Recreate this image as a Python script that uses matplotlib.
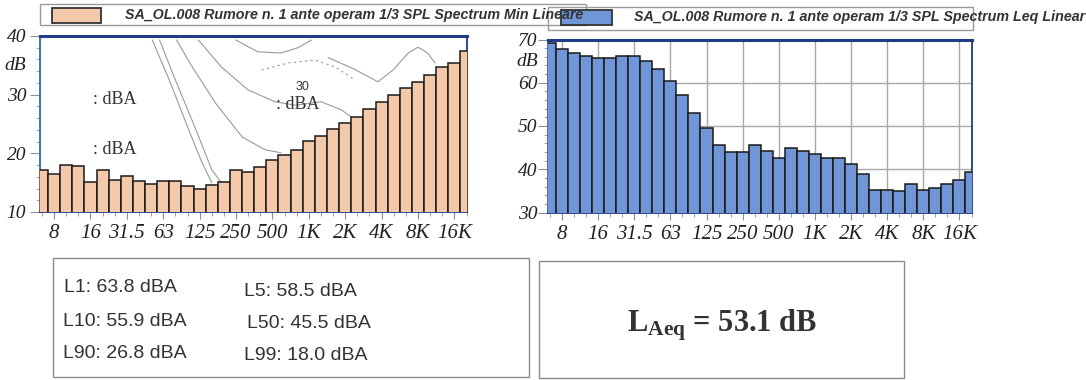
import matplotlib
matplotlib.use('Agg')
import matplotlib.pyplot as plt
from matplotlib.patches import Rectangle
from matplotlib.transforms import blended_transform_factory

W, H = 1086, 380

# 1/3 octave bands, 6.3 Hz .. 20 kHz
bands = ['6.3', '8', '10', '12.5', '16', '20', '25', '31.5', '40', '50', '63', '80',
         '100', '125', '160', '200', '250', '315', '400', '500', '630', '800', '1K', '1.25K',
         '1.6K', '2K', '2.5K', '3.15K', '4K', '5K', '6.3K', '8K', '10K', '12.5K', '16K', '20K']
label_bands = ['8', '16', '31.5', '63', '125', '250', '500', '1K', '2K', '4K', '8K', '16K']

min_levels = [17.2, 16.4, 18.0, 17.8, 15.1, 17.2, 15.4, 16.1, 15.2, 14.8, 15.2, 15.2,
              14.4, 14.0, 14.6, 15.1, 17.1, 16.8, 17.7, 18.8, 19.7, 20.6, 22.1, 22.9,
              24.1, 25.1, 26.2, 27.6, 28.7, 29.9, 31.1, 32.2, 33.3, 34.8, 35.4, 37.5]
leq_levels = [69.2, 67.9, 66.9, 66.2, 65.8, 65.8, 66.2, 66.2, 65.0, 63.2, 60.4, 57.1,
              52.9, 49.6, 45.7, 44.1, 44.1, 45.7, 44.3, 42.7, 44.8, 44.2, 43.5, 42.7,
              42.7, 41.3, 39.0, 35.2, 35.2, 35.0, 36.5, 35.1, 35.7, 36.6, 37.6, 39.3]

stat_names = ['L1', 'L5', 'L10', 'L50', 'L90', 'L99']
stat_values = [63.8, 58.5, 55.9, 45.5, 26.8, 18.0]
laeq = 53.1

min_title = 'SA_OL.008 Rumore n. 1 ante operam 1/3 SPL Spectrum Min Lineare'
leq_title = 'SA_OL.008 Rumore n. 1 ante operam 1/3 SPL Spectrum Leq Linear'

# faint curves printed behind the min spectrum (band index, dB)
curve_a_x = [9.1, 10.5, 12.1, 13.2, 14.0]
curve_a_y = [39.3, 32.5, 24.0, 18.4, 15.0]
curve_b_x = [9.7, 11.0, 12.7, 14.0, 14.8]
curve_b_y = [39.3, 32.5, 24.0, 17.2, 15.0]
curve_c_x = [11.1, 12.4, 14.3, 16.5, 18.4, 19.7]
curve_c_y = [39.3, 34.7, 28.6, 22.8, 20.6, 20.1]
curve_d_x = [12.9, 14.8, 17.0, 19.2, 20.9, 23.0, 24.7, 25.5]
curve_d_y = [39.3, 34.7, 30.8, 28.8, 28.2, 28.8, 27.4, 26.2]
curve_e_x = [16.0, 17.8, 19.7, 21.1, 22.2]
curve_e_y = [39.3, 37.3, 37.1, 38.0, 39.3]
curve_f_x = [23.6, 25.6, 27.7, 29.0, 30.2, 31.0, 31.8, 32.4]
curve_f_y = [36.3, 34.5, 32.2, 34.3, 37.1, 38.1, 37.1, 35.4]
curve_g_x = [18.1, 20.3, 22.5, 24.2, 25.8]
curve_g_y = [34.2, 35.4, 35.9, 34.7, 32.5]

serif_it = dict(family='Liberation Serif', style='italic')
frame_col = '#1f3c88'


def fx(px):
    return px / W


def fy(py):
    return 1 - py / H


def box(fig, x0, y0, x1, y1, **kw):
    fig.patches.append(Rectangle((fx(x0), fy(y1)), fx(x1) - fx(x0), fy(y0) - fy(y1),
                                 transform=fig.transFigure, **kw))


def spectrum(fig, px, levels, color, ylim, ymajor, dB_at, grid, ypad):
    x0, y0, x1, y1 = px
    ax = fig.add_axes([fx(x0), fy(y1), fx(x1) - fx(x0), fy(y0) - fy(y1)])
    idx = list(range(len(levels)))
    ax.bar(idx, levels, width=1.0, color=color, edgecolor='#1a1a1a', linewidth=1.1, zorder=3)
    ax.set_xlim(-0.16, 35.04)
    ax.set_ylim(*ylim)

    major = [bands.index(b) for b in label_bands]
    ax.set_xticks(major)
    ax.set_xticklabels(label_bands, fontsize=15, **serif_it)
    ax.set_xticks(idx, minor=True)
    ax.set_yticks(ymajor)
    ax.set_yticklabels([str(v) for v in ymajor], fontsize=14, **serif_it)
    ax.set_yticks(range(ylim[0], ylim[1] + 1, 2), minor=True)
    ax.tick_params(axis='x', which='major', length=5, color='#8890a8', pad=4)
    ax.tick_params(axis='x', which='minor', length=3, color='#8890a8')
    ax.tick_params(axis='y', which='major', length=7, color='#8890a8', pad=ypad)
    ax.tick_params(axis='y', which='minor', length=3, color='#8890a8')
    for lab in ax.get_xticklabels() + ax.get_yticklabels():
        lab.set_color('#222222')

    tr = blended_transform_factory(ax.transAxes, ax.transData)
    ax.text(-(7 * 1.39 + ypad * 1.39) / (x1 - x0), dB_at, 'dB', transform=tr,
            ha='right', va='center', fontsize=14, color='#222222', **serif_it)

    if grid:
        ax.grid(True, which='major', color='#a8a8a8', linewidth=1.0, zorder=0)
        ax.set_axisbelow(True)

    for s in ax.spines.values():
        s.set_color(frame_col)
        s.set_linewidth(1.3)
    ax.spines['top'].set_linewidth(2.2)
    ax.spines['left'].set_color('#2a64c0')
    return ax


fig = plt.figure(figsize=(W / 100, H / 100), dpi=100)

# left: Min spectrum
ax1 = spectrum(fig, (40, 36, 467, 212), min_levels, '#f3c9aa', (10, 40), [10, 20, 30, 40], 35, False, 3)
for cx, cy, ls in [(curve_a_x, curve_a_y, '-'), (curve_b_x, curve_b_y, '-'),
                   (curve_c_x, curve_c_y, '-'), (curve_d_x, curve_d_y, '-'),
                   (curve_e_x, curve_e_y, '-'), (curve_f_x, curve_f_y, '-'),
                   (curve_g_x, curve_g_y, (0, (2, 3)))]:
    ax1.plot(cx, cy, color='#9a9a9a', linewidth=0.8, linestyle=ls, zorder=1)
ax1.text(4.2, 29.1, ': dBA', fontsize=13, family='Liberation Serif', color='#333333', va='center', zorder=2)
ax1.text(4.2, 20.6, ': dBA', fontsize=13, family='Liberation Serif', color='#333333', va='center', zorder=2)
ax1.text(19.3, 28.3, ': dBA', fontsize=13, family='Liberation Serif', color='#333333', va='center', zorder=2)
ax1.text(20.9, 31.3, '30', fontsize=9, family='Liberation Sans', color='#333333', va='center', zorder=2)

# right: Leq spectrum
ax2 = spectrum(fig, (548, 39.5, 972, 212.5), leq_levels, '#7096d8', (30, 70), [30, 40, 50, 60, 70], 65, True, 0.5)

# legend strips
box(fig, 40, 4, 586, 25, facecolor='white', edgecolor='#9a9a9a', linewidth=1.0)
box(fig, 52, 8, 101, 23, facecolor='#f3c9aa', edgecolor='#333333', linewidth=1.3)
fig.text(fx(125), fy(15), min_title, fontsize=10.3, family='Liberation Sans', weight='bold',
         style='italic', color='#333333', va='center')
box(fig, 548, 7, 973, 30, facecolor='none', edgecolor='#9a9a9a', linewidth=1.0)
box(fig, 561, 10, 612, 25, facecolor='#7096d8', edgecolor='#333333', linewidth=1.3)
fig.text(fx(634), fy(17), leq_title, fontsize=10.3, family='Liberation Sans', weight='bold',
         style='italic', color='#333333', va='center')

# statistics box
box(fig, 53, 258, 529, 377, facecolor='none', edgecolor='#8a8a8a', linewidth=1.0)
stat_pos = [(64, 288), (244, 291), (63, 321), (247, 323), (63, 353), (244, 356)]
for (sx, sy), n, v in zip(stat_pos, stat_names, stat_values):
    fig.text(fx(sx), fy(sy), '{}: {:.1f} dBA'.format(n, v), fontsize=14, family='Liberation Sans',
             color='#333333', va='center')

# LAeq box
plt.rcParams['mathtext.fontset'] = 'custom'
plt.rcParams['mathtext.bf'] = 'Liberation Serif:bold'
plt.rcParams['mathtext.rm'] = 'Liberation Serif:bold'
box(fig, 539, 261, 904, 378, facecolor='none', edgecolor='#8a8a8a', linewidth=1.0)
fig.text(fx(722), fy(325), r'$\mathbf{L_{Aeq}}$' + ' = {:.1f} dB'.format(laeq), fontsize=22,
         family='Liberation Serif', weight='bold', color='#333333', ha='center', va='center')

fig.savefig('out.png', dpi=100)
